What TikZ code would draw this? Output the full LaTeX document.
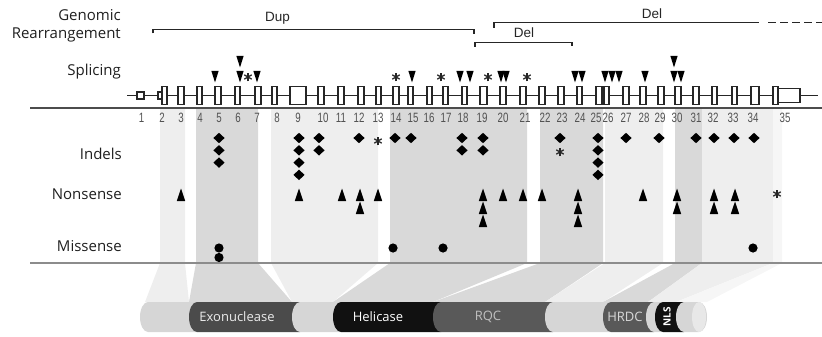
\documentclass[tikz,border=0pt]{standalone}
\usepackage{fontspec}
\setmainfont{Open Sans}
\newfontfamily\arialf{Liberation Sans}
\newfontfamily\numf[FakeStretch=0.72]{Liberation Sans}
\definecolor{lightband}{HTML}{EEEEEE}
\definecolor{midband}{HTML}{D9D9D9}
\definecolor{palband}{HTML}{F6F6F6}
\definecolor{barlight}{HTML}{D6D6D6}
\definecolor{barface}{HTML}{E8E8E8}
\definecolor{bardark}{HTML}{4B4B4B}
\definecolor{barmid}{HTML}{595959}
\definecolor{barblack}{HTML}{111111}
\begin{document}
\begin{tikzpicture}[x=1pt,y=-1pt,
  rowlbl/.style={font=\fontsize{15}{17}\selectfont, text=black!88, anchor=east, inner sep=0pt},
  numlbl/.style={font=\numf\fontsize{13.5}{14}\selectfont, text=black!68, inner sep=0pt},
  rearr/.style={font=\arialf\fontsize{13.5}{15}\selectfont, text=black!85, inner sep=0pt},
  bracket/.style={draw=black!85, line width=1.5pt},
  exon/.style={draw=black!85, fill=white, line width=1.1pt},
  blk/.style={fill=black},
  domlbl/.style={font=\fontsize{13}{15}\selectfont, inner sep=0pt}]
\useasboundingbox (0,0) rectangle (822,337);
% ---------- shaded bands ----------
\foreach \tl/\tr/\bl/\br/\c in {160/185/145/189/lightband, 196/258/189/292/midband,
   271/378/292/333/lightband, 390/527/333/433/midband, 540/603/433/545/midband,
   605/663/545/603/lightband, 675/702/603/648/midband, 702/773/648/676/lightband,
   773/782/676/707/palband}
  \fill[\c] (\tl,108) -- (\tr,108) -- (\tr,263) -- (\br,302) -- (\bl,302) -- (\tl,263) -- cycle;
% ---------- separator lines ----------
\draw[black!70, line width=1.2pt] (30,108) -- (822,108);
\draw[black!45, line width=2pt] (30,263) -- (822,263);
% ---------- labels ----------
\node[rowlbl] (lgen) at (121,15) {Genomic};
\node[rowlbl] (lrea) at (121,35) {Rearrangement};
\node[rowlbl] (lspl) at (121,71.5) {Splicing};
\node[rowlbl] (lind) at (122,154) {Indels};
\node[rowlbl] (lnon) at (122,194) {Nonsense};
\node[rowlbl] (lmis) at (122,246) {Missense};
% ---------- genomic rearrangements ----------
\draw[bracket] (153,33.5) -- (153,29.5) -- (474,29.5) -- (474,34);
\node[rearr] (dup) at (277.5,18) {Dup};
\draw[bracket] (475,47) -- (475,42.3) -- (572,42.3) -- (572,46.5);
\node[rearr] (del1) at (524,33) {Del};
\draw[bracket] (494,28) -- (494,22.7) -- (759,22.7);
\draw[bracket, dash pattern=on 8pt off 4pt] (768,22.7) -- (822,22.7);
\node[rearr] (del2) at (652,14) {Del};
% ---------- gene ----------
\draw[black!85, line width=1.3pt] (127,95.5) -- (818,95.5);
\draw[exon] (137,92) rectangle (144,99);
\draw[exon] (158,92) rectangle (162,99);
\foreach \l/\r in {162/167,178/184,197/202,215/221,235/240,255/261,272/277,290/306,
  318/324,338/344,358/364,376/381,393/399,408/413,427/432,443/448,462/467,480/487,
  500/506,520/526,539/545,558/564,577/582,596/602,604/609,623/629,640/646,658/664,
  675/681,693/699,712/717,732/737,751/759,773/778}
  \draw[exon] (\l,86.5) rectangle (\r,104.5);
\draw[exon] (778,88.5) rectangle (800,102.5);
\foreach \n/\x in {1/141.7,2/162,3/181,4/200,5/219,6/238,7/257,8/277,9/298,10/323,
  11/341,12/359,13/378,14/396,15/413,16/429,17/446,18/463,19/482,20/503,21/525,
  22/545,23/562,24/580,25/596,26/608,27/626,28/644,29/660,30/677,31/696,32/713,
  33/733,34/753,35/785}
  \node[numlbl] (n\n) at (\x,117.5) {\n};
% ---------- splicing ----------
\foreach \x in {215,240,257,412,460,470,501,506,575,582,605,612,619,645,674,681}
  \fill[blk] (\x-3.6,71) -- (\x+3.6,71) -- (\x,82.5) -- cycle;
\foreach \x in {240,674}
  \fill[blk] (\x-3.6,56) -- (\x+3.6,56) -- (\x,67.5) -- cycle;
% ---------- asterisks ----------
\foreach \x/\y in {248/77,396/77,441/77,488/77,527/77,378/141,560/152,777/194}
  \foreach \a in {90,30,150}
    \draw[black!85, line width=1.3pt] (\x,\y) +(\a:4.3) -- +(\a+180:4.3);
% ---------- indels ----------
\foreach \x/\n in {219/3,299/4,319/2,359/1,395/1,411/1,462/2,483/2,560/1,598/4,
  626/1,659/1,696/1,714/1,734/1,754/1}
  \foreach \k in {1,...,\n}
    \fill[blk] (\x,{138+12.3*(\k-1)}) +(0,-5.2) -- +(5.6,0) -- +(0,5.2) -- +(-5.6,0) -- cycle;
% ---------- nonsense ----------
\foreach \x/\n in {181/1,299/1,342/1,360/2,378/1,483/3,503/1,523/1,542/1,578/3,
  643/1,677/2,714/2,735/2}
  \foreach \k in {1,...,\n}
    \fill[blk] (\x,{195+13*(\k-1)}) +(-4.2,6) -- +(4.2,6) -- +(0,-6.5) -- cycle;
% ---------- missense ----------
\foreach \x/\y in {219/248,219/257.5,393/248,443/248,753/248}
  \fill[blk] (\x,\y) circle[radius=4.6];
% ---------- protein bar ----------
\foreach \L/\R/\c in {140/189/barlight,189/292/bardark,292/333/barlight,333/433/barblack,
  433/545/barmid,545/603/barlight,603/646/barmid,646/655/barlight,655/676/barblack}
  \fill[\c] (\L+8,302) arc[start angle=270,end angle=90,x radius=8,y radius=15]
     -- (\R+8,332) -- (\R+8,302) -- cycle;
\fill[barlight] (684,302) arc[start angle=270,end angle=90,x radius=8,y radius=15]
   -- (699,332) arc[start angle=90,end angle=-90,x radius=8,y radius=15] -- cycle;
\fill[barface] (699,317) ellipse[x radius=7,y radius=15];
\node[domlbl, text=black!8] (exo) at (237,317) {Exonuclease};
\node[domlbl, text=white] (hel) at (378,317) {Helicase};
\node[domlbl, text=black!25] (rqc) at (488,317) {RQC};
\node[domlbl, text=black!15] (hrdc) at (625,317) {HRDC};
\node[domlbl, text=white, rotate=90, font=\bfseries\fontsize{10}{12}\selectfont] (nls) at (667,317) {NLS};
\end{tikzpicture}
\end{document}
